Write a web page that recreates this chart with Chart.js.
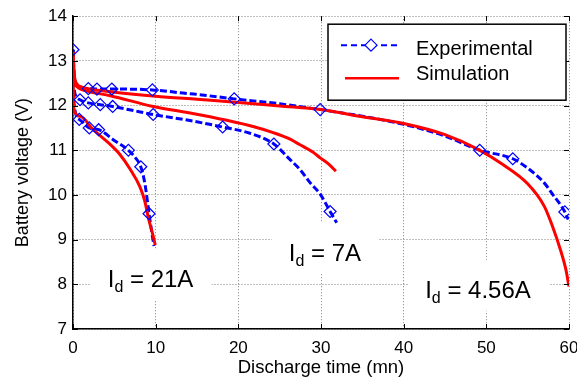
<!DOCTYPE html>
<html>
<head>
<meta charset="utf-8">
<script src="https://cdn.jsdelivr.net/npm/chart.js@4.4.1/dist/chart.umd.min.js"></script>
<style>
	html, body { margin: 0; padding: 0; background: #fff; }
	#wrap { width: 577px; height: 388px; }
</style>
</head>
<body>
<div id="wrap"><canvas id="c" width="577" height="388"></canvas></div>
<script>
// discharge time (mn), battery voltage (V)
var sim456 = [[0,13.2],[0.15,12.7],[0.5,12.48],[1,12.42],[2,12.37],[5,12.3],[10,12.21],[15,12.14],[20,12.07],[25,11.99],[30,11.91],[35,11.75],[40,11.6],[45,11.35],[49,11.02],[52,10.68],[55,10.25],[57,9.75],[58,9.3],[59,8.75],[59.6,8.35],[60,7.95]];
var sim7 = [[0,13.2],[0.15,12.6],[0.5,12.42],[1,12.36],[2,12.31],[4.5,12.22],[9.7,11.98],[14,11.84],[18.6,11.67],[22,11.52],[24.3,11.39],[26,11.27],[27.4,11.13],[29,10.96],[29.9,10.83],[31,10.68],[31.8,10.53]];
var sim21 = [[0,13.2],[0.08,11.95],[0.85,11.76],[2.45,11.46],[4.5,11.13],[5.7,10.9],[6.9,10.58],[8.1,10.18],[8.7,9.85],[9.1,9.5],[9.6,9.15],[9.95,8.88]];

var exp456 = [[0,13.25],[0.15,12.7],[0.5,12.45],[1.85,12.38],[2.9,12.37],[4.7,12.37],[9.6,12.35],[13.3,12.28],[15,12.25],[19.5,12.15],[25,12.04],[29.9,11.91],[35,11.76],[40,11.58],[45,11.32],[49.2,11.0],[53.2,10.81],[55,10.6],[57,10.27],[58,10.02],[59.5,9.62],[59.9,9.45]];
var exp7 = [[0,13.25],[0.1,12.5],[0.4,12.2],[0.85,12.13],[1.85,12.06],[3.3,12.02],[4.8,11.98],[7,11.9],[9.7,11.8],[14,11.67],[18.1,11.52],[21.4,11.38],[24.3,11.14],[26.2,10.8],[27.4,10.58],[28.7,10.27],[29.9,10.02],[31.1,9.63],[31.9,9.38]];
var exp21 = [[0,13.25],[0.1,12.1],[0.76,11.69],[1.97,11.5],[3.1,11.46],[5,11.22],[6.7,11.0],[7.6,10.82],[8.2,10.63],[8.7,10.25],[9.2,9.58],[9.5,9.2],[9.8,8.86]];

var mark456 = [[0,13.25],[1.85,12.38],[2.9,12.37],[4.7,12.37],[9.6,12.35],[19.5,12.15],[29.9,11.91],[49.2,11.0],[53.2,10.81],[59.5,9.62]];
var mark7 = [[0.85,12.13],[1.85,12.06],[3.3,12.02],[4.8,11.98],[9.7,11.8],[18.1,11.52],[24.3,11.14],[31.1,9.63]];
var mark21 = [[0.76,11.69],[1.97,11.5],[3.1,11.46],[6.7,11.0],[8.2,10.63],[9.2,9.58]];

var xTicks = [0, 10, 20, 30, 40, 50, 60];
var yTicks = [7, 8, 9, 10, 11, 12, 13, 14];
var seriesNames = ['Experimental', 'Simulation'];
var currentLabels = ['21A', '7A', '4.56A'];

var BLUE = '#0000ff', RED = '#ff0000';
var FONT = '"Liberation Sans", Arial, sans-serif';

function pts(a) {
	return a.map(function(p) { return {x: p[0], y: p[1]}; });
}
function simSet(a) {
	return {data: pts(a), borderColor: RED, borderWidth: 3, pointRadius: 0, cubicInterpolationMode: 'monotone', fill: false};
}
function expSet(a) {
	return {data: pts(a), borderColor: BLUE, borderWidth: 3, borderDash: [7, 3], pointRadius: 0, cubicInterpolationMode: 'monotone', fill: false};
}
function markSet(a) {
	return {data: pts(a), showLine: false, pointStyle: 'rectRot', pointRadius: 6, pointBorderWidth: 1.2,
		pointBorderColor: BLUE, pointBackgroundColor: 'rgba(0,0,0,0)', pointHoverRadius: 6};
}

// I_d = ... boxes (under the curves) and texts
var currentTags = {
	id: 'currentTags',
	spots: [[4.2, 7.93], [26.1, 8.53], [42.6, 7.70]],
	beforeDatasetsDraw: function(chart) {
		var ctx = chart.ctx, sx = chart.scales.x, sy = chart.scales.y;
		ctx.save();
		ctx.fillStyle = '#fff';
		this.spots.forEach(function(s, i) {
			var px = sx.getPixelForValue(s[0]), py = sy.getPixelForValue(s[1]);
			ctx.font = '24px ' + FONT;
			var w = ctx.measureText('I = ' + currentLabels[i]).width + 10;
			ctx.fillRect(px - 17, py - 38, w + 34, 51);
		});
		ctx.restore();
	},
	afterDatasetsDraw: function(chart) {
		var ctx = chart.ctx, sx = chart.scales.x, sy = chart.scales.y;
		ctx.save();
		ctx.fillStyle = '#000';
		ctx.textBaseline = 'alphabetic';
		this.spots.forEach(function(s, i) {
			var px = sx.getPixelForValue(s[0]), py = sy.getPixelForValue(s[1]);
			ctx.font = '24px ' + FONT;
			ctx.fillText('I', px, py);
			var x = px + ctx.measureText('I').width;
			ctx.font = '16px ' + FONT;
			ctx.fillText('d', x, py + 5);
			x += ctx.measureText('d').width;
			ctx.font = '24px ' + FONT;
			ctx.fillText(' = ' + currentLabels[i], x, py);
		});
		ctx.restore();
	}
};

// matlab style inward ticks on all four sides
var innerTicks = {
	id: 'innerTicks',
	afterDraw: function(chart) {
		var ctx = chart.ctx, a = chart.chartArea, sx = chart.scales.x, sy = chart.scales.y;
		ctx.save();
		ctx.strokeStyle = '#000';
		ctx.lineWidth = 1;
		ctx.beginPath();
		xTicks.forEach(function(v) {
			var p = Math.round(sx.getPixelForValue(v)) + 0.5;
			ctx.moveTo(p, a.bottom); ctx.lineTo(p, a.bottom - 5);
			ctx.moveTo(p, a.top); ctx.lineTo(p, a.top + 5);
		});
		yTicks.forEach(function(v) {
			var p = Math.round(sy.getPixelForValue(v)) + 0.5;
			ctx.moveTo(a.left, p); ctx.lineTo(a.left + 5, p);
			ctx.moveTo(a.right, p); ctx.lineTo(a.right - 5, p);
		});
		ctx.stroke();
		ctx.restore();
	}
};

var legendBox = {
	id: 'legendBox',
	afterDraw: function(chart) {
		var ctx = chart.ctx, a = chart.chartArea;
		var x = a.right - 241, y = a.top + 8, w = 238, h = 76;
		ctx.save();
		ctx.fillStyle = '#fff';
		ctx.fillRect(x, y, w, h);
		ctx.strokeStyle = '#000';
		ctx.lineWidth = 1.5;
		ctx.strokeRect(x, y, w, h);
		// experimental sample
		ctx.strokeStyle = BLUE;
		ctx.lineWidth = 2;
		ctx.setLineDash([6, 4]);
		ctx.beginPath(); ctx.moveTo(x + 13, y + 21); ctx.lineTo(x + 72, y + 21); ctx.stroke();
		ctx.setLineDash([]);
		ctx.lineWidth = 1.2;
		ctx.fillStyle = '#fff';
		ctx.beginPath();
		ctx.moveTo(x + 43, y + 15); ctx.lineTo(x + 49, y + 21); ctx.lineTo(x + 43, y + 27); ctx.lineTo(x + 37, y + 21); ctx.closePath();
		ctx.fill(); ctx.stroke();
		// simulation sample
		ctx.strokeStyle = RED;
		ctx.lineWidth = 2.5;
		ctx.beginPath(); ctx.moveTo(x + 17, y + 54); ctx.lineTo(x + 71, y + 54); ctx.stroke();
		ctx.fillStyle = '#000';
		ctx.font = '20px ' + FONT;
		ctx.textBaseline = 'middle';
		ctx.fillText(seriesNames[0], x + 88, y + 25);
		ctx.fillText(seriesNames[1], x + 88, y + 50);
		ctx.restore();
	}
};

new Chart(document.getElementById('c'), {
	type: 'line',
	data: {
		datasets: [
			markSet(mark456), markSet(mark7), markSet(mark21),
			simSet(sim456), simSet(sim7), simSet(sim21),
			expSet(exp456), expSet(exp7), expSet(exp21)
		]
	},
	options: {
		responsive: false,
		animation: false,
		events: [],
		layout: {padding: {left: 0, right: 8, top: 15, bottom: 0}},
		plugins: {legend: {display: false}, tooltip: {enabled: false}},
		scales: {
			x: {
				type: 'linear', min: 0, max: 60,
				afterBuildTicks: function(s) { s.ticks = xTicks.map(function(v) { return {value: v}; }); },
				afterFit: function(s) { s.height = 59; s.paddingLeft = 0; s.paddingRight = 0; },
				grid: {color: '#808080', lineWidth: 1, drawTicks: false},
				border: {display: true, color: '#000', width: 1.5, dash: [1, 2]},
				ticks: {color: '#000', padding: 9, font: {family: FONT, size: 17}, maxRotation: 0},
				title: {display: true, text: 'Discharge time (mn)', color: '#000', font: {family: FONT, size: 18.5}, padding: {top: 2, bottom: 9}}
			},
			y: {
				type: 'linear', min: 7, max: 14,
				afterBuildTicks: function(s) { s.ticks = yTicks.map(function(v) { return {value: v}; }); },
				afterFit: function(s) { s.width = 73; },
				grid: {color: '#808080', lineWidth: 1, drawTicks: false},
				border: {display: true, color: '#000', width: 1.5, dash: [1, 2]},
				ticks: {color: '#000', padding: 6, font: {family: FONT, size: 17}},
				title: {display: true, text: 'Battery voltage (V)', color: '#000', font: {family: FONT, size: 18}, padding: {top: 12, bottom: 0}}
			}
		}
	},
	plugins: [currentTags, innerTicks, legendBox]
});
</script>
</body>
</html>
